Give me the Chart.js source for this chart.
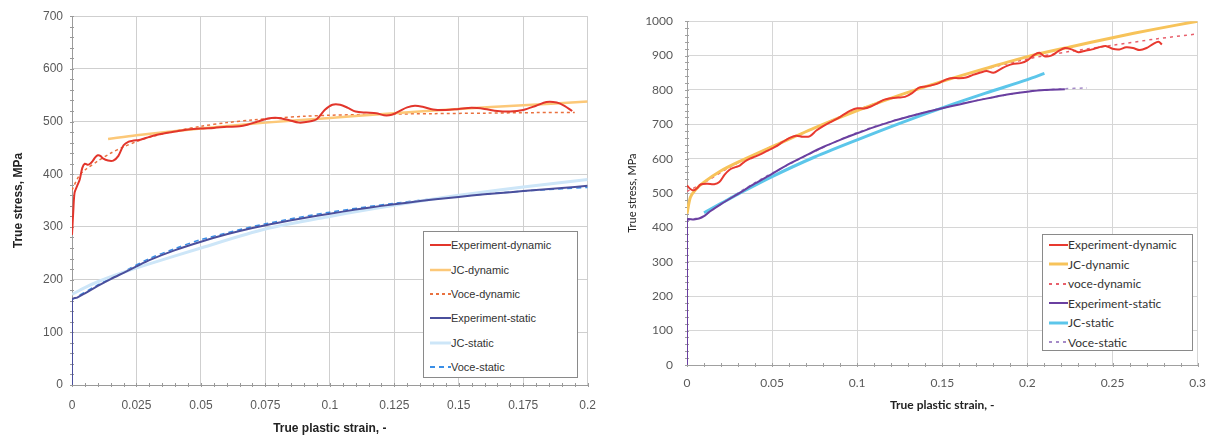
<!DOCTYPE html>
<html>
<head>
<meta charset="utf-8">
<script src="https://cdn.jsdelivr.net/npm/chart.js@4.4.1/dist/chart.umd.min.js"></script>
<style>
  body { margin: 0; background: #fff; }
  .box { position: absolute; top: 0; height: 440px; }
  .legend { position: absolute; background: #fff; border: 1px solid #8a8a8a; box-sizing: border-box; color: #333; }
  .legend .row { display: flex; align-items: center; white-space: nowrap; }
  .legend svg { flex: none; }
</style>
</head>
<body>
<div class="box" style="left:0;width:609px"><canvas id="leftChart"></canvas></div>
<div class="box" style="left:609px;width:608px"><canvas id="rightChart"></canvas></div>
<div id="leftLegend" class="legend" style="left:423px;top:231px;width:155px;height:147px;font:11px 'Liberation Sans',Arial,sans-serif;padding-top:1px"></div>
<div id="rightLegend" class="legend" style="left:1042px;top:234px;width:151px;height:117px;font:12px Lato,'Open Sans',sans-serif;padding-top:0px"></div>
<script>
// Courbes contrainte vraie / déformation plastique vraie.

// --- graphique de gauche ---
const leftLabels = ['Experiment-dynamic', 'JC-dynamic', 'Voce-dynamic', 'Experiment-static', 'JC-static', 'Voce-static'];
const leftXTicks = [0, 0.025, 0.05, 0.075, 0.1, 0.125, 0.15, 0.175, 0.2];
const leftYTicks = [0, 100, 200, 300, 400, 500, 600, 700];

const leftExpDynamic = [[0,285],[0.0005,330],[0.001,365],[0.002,378],[0.003,390],[0.004,412],[0.005,420],[0.006,418],
  [0.007,420],[0.008,425],[0.009,432],[0.010,436],[0.011,435],[0.012,430],[0.014,426],[0.016,426],[0.018,435],
  [0.020,455],[0.022,462],[0.024,464],[0.026,465],[0.028,468],[0.030,471],[0.033,475],[0.036,478],[0.040,481],
  [0.045,485],[0.050,487],[0.055,488],[0.060,490],[0.065,491],[0.068,494],[0.072,500],[0.076,506],[0.080,507],
  [0.084,503],[0.088,498],[0.092,500],[0.095,505],[0.098,522],[0.101,532],[0.104,532],[0.107,526],[0.110,519],
  [0.114,517],[0.118,516],[0.121,512],[0.124,513],[0.127,520],[0.130,527],[0.133,530],[0.136,528],[0.140,523],
  [0.145,522],[0.150,524],[0.155,526],[0.160,524],[0.165,520],[0.170,519],[0.175,522],[0.180,530],[0.184,537],
  [0.188,536],[0.191,530],[0.194,520]];
const leftJcDynamic = [[0.014,467],[0.025,474],[0.05,487],[0.075,498],[0.1,507],[0.125,516],[0.15,524],[0.175,531],[0.2,538]];
const leftVoceDynamic = [[0,370],[0.0025,395],[0.005,408],[0.01,425],[0.015,440],[0.02,452],[0.025,462],[0.03,470],
  [0.04,482],[0.05,491],[0.06,498],[0.07,503],[0.08,507],[0.09,510],[0.1,512],[0.12,514],[0.14,515],[0.16,516],
  [0.18,517],[0.195,517]];
const leftExpStatic = [[0,0],[0,162],[0.002,166],[0.005,174],[0.01,188],[0.015,201],[0.02,213],[0.025,225],[0.03,237],
  [0.04,256],[0.05,272],[0.06,286],[0.07,298],[0.08,308],[0.09,317],[0.1,325],[0.11,333],[0.12,340],[0.13,346],
  [0.14,352],[0.15,357],[0.16,362],[0.17,366],[0.18,370],[0.19,374],[0.2,378]];
const leftJcStatic = [[0,172],[0.005,185],[0.01,196],[0.02,214],[0.03,230],[0.05,260],[0.075,296],[0.1,320],
  [0.125,341],[0.15,360],[0.175,376],[0.2,390]];
const leftVoceStatic = [[0,162],[0.01,190],[0.02,215],[0.03,240],[0.04,259],[0.05,276],[0.075,306],[0.1,328],
  [0.125,345],[0.15,358],[0.175,368],[0.2,375]];

// --- graphique de droite ---
const rightLabels = ['Experiment-dynamic', 'JC-dynamic', 'voce-dynamic', 'Experiment-static', 'JC-static', 'Voce-static'];
const rightXTicks = [0, 0.05, 0.1, 0.15, 0.2, 0.25, 0.3];
const rightYTicks = [0, 100, 200, 300, 400, 500, 600, 700, 800, 900, 1000];

const rightExpDynamic = [[0,522],[0.002,512],[0.004,508],[0.006,515],[0.008,525],[0.012,527],[0.016,526],[0.019,532],
  [0.022,553],[0.025,568],[0.028,575],[0.031,580],[0.034,592],[0.037,600],[0.04,606],[0.044,615],[0.048,625],
  [0.052,635],[0.056,648],[0.06,660],[0.064,667],[0.068,664],[0.072,665],[0.076,682],[0.08,695],[0.084,706],
  [0.088,716],[0.092,728],[0.096,740],[0.1,747],[0.104,746],[0.108,752],[0.112,762],[0.116,772],[0.12,776],
  [0.124,778],[0.128,780],[0.132,790],[0.136,806],[0.14,810],[0.144,814],[0.148,820],[0.152,830],[0.156,835],
  [0.16,834],[0.164,836],[0.168,844],[0.172,850],[0.176,855],[0.18,850],[0.184,860],[0.188,870],[0.192,876],
  [0.196,878],[0.2,886],[0.204,902],[0.207,908],[0.21,898],[0.214,900],[0.218,912],[0.222,922],[0.226,918],
  [0.23,910],[0.234,914],[0.238,918],[0.242,924],[0.246,928],[0.25,920],[0.254,918],[0.258,924],[0.262,922],
  [0.266,916],[0.27,922],[0.274,934],[0.277,940],[0.279,932]];
const rightJcDynamic = [[0,440],[0.002,488],[0.005,510],[0.01,532],[0.02,565],[0.03,590],[0.05,635],[0.075,690],
  [0.1,740],[0.125,785],[0.15,825],[0.175,862],[0.2,897],[0.225,925],[0.25,952],[0.275,977],[0.3,1000]];
const rightVoceDynamic = [[0,505],[0.01,530],[0.025,575],[0.05,636],[0.075,690],[0.1,742],[0.125,785],[0.15,825],
  [0.175,860],[0.2,890],[0.225,912],[0.25,930],[0.275,948],[0.3,963]];
const rightExpStatic = [[0,0],[0,422],[0.004,423],[0.007,426],[0.01,433],[0.013,445],[0.02,468],[0.03,498],[0.04,528],
  [0.05,556],[0.06,585],[0.07,610],[0.08,634],[0.09,655],[0.1,674],[0.11,692],[0.12,708],[0.13,722],[0.14,735],
  [0.15,747],[0.16,758],[0.17,769],[0.18,779],[0.19,788],[0.2,795],[0.21,800],[0.222,802]];
const rightJcStatic = [[0.01,443],[0.02,470],[0.03,497],[0.05,548],[0.075,605],[0.1,655],[0.125,703],[0.15,748],
  [0.175,790],[0.2,830],[0.21,848]];
const rightVoceStatic = [[0,420],[0.01,434],[0.02,470],[0.05,558],[0.1,676],[0.15,748],[0.2,796],[0.22,803],[0.235,806]];

// styles des séries : [couleur, épaisseur, tirets]
const leftStyles = [['#e2352b', 2, []], ['#fcc878', 2.5, []], ['#e9713f', 1.5, [3, 3]],
                    ['#4a4f9c', 2, []], ['#cde6f8', 3, []], ['#3a8ee6', 1.5, [5, 4]]];
const rightStyles = [['#e8392f', 2, []], ['#f7c35a', 3, []], ['#e8606c', 1.5, [3, 4]],
                     ['#6a3fa0', 2, []], ['#5cc6ea', 3, []], ['#a58bc8', 1.5, [3, 4]]];

const toXY = (pts) => pts.map(([x, y]) => ({ x, y }));

function buildDatasets(labels, series, styles) {
  return series.map((pts, i) => ({
    label: labels[i],
    data: toXY(pts),
    borderColor: styles[i][0],
    borderWidth: styles[i][1],
    borderDash: styles[i][2],
    pointRadius: 0,
    fill: false,
    tension: 0.3,
  }));
}

// petites graduations secondaires sur les axes
const minorTicks = {
  id: 'minorTicks',
  beforeDatasetsDraw(chart, args, opts) {
    const { ctx, scales: { x, y } } = chart;
    ctx.save();
    ctx.strokeStyle = opts.color;
    ctx.lineWidth = 1;
    ctx.beginPath();
    const nx = Math.round((x.max - x.min) / opts.xStep);
    for (let i = 0; i <= nx; i++) {
      const px = Math.round(x.getPixelForValue(x.min + i * opts.xStep)) + 0.5;
      ctx.moveTo(px, y.bottom - 2); ctx.lineTo(px, y.bottom + 2);
    }
    const ny = Math.round((y.max - y.min) / opts.yStep);
    for (let i = 0; i <= ny; i++) {
      const py = Math.round(y.getPixelForValue(y.min + i * opts.yStep)) + 0.5;
      ctx.moveTo(x.left - 2, py); ctx.lineTo(x.left + 2, py);
    }
    ctx.stroke();
    ctx.restore();
  },
};

function makeChart(canvasId, cfg) {
  const tickFont = { family: cfg.font, size: 12 };
  return new Chart(document.getElementById(canvasId), {
    type: 'line',
    data: { datasets: cfg.datasets },
    plugins: [minorTicks],
    options: {
      responsive: true,
      maintainAspectRatio: false,
      animation: false,
      layout: { padding: { top: cfg.top, right: cfg.right, left: 0, bottom: 0 } },
      plugins: {
        legend: { display: false },
        tooltip: { enabled: false },
        minorTicks: { color: cfg.axisColor, xStep: cfg.xMinor, yStep: cfg.yMinor },
      },
      scales: {
        x: {
          type: 'linear',
          min: cfg.xTicks[0],
          max: cfg.xTicks[cfg.xTicks.length - 1],
          afterBuildTicks: (s) => { s.ticks = cfg.xTicks.map((v) => ({ value: v })); },
          afterFit: (s) => { s.height = cfg.xHeight; },
          grid: { color: cfg.gridColor, drawTicks: false },
          border: { color: cfg.axisColor },
          ticks: { color: '#595959', font: tickFont, padding: cfg.xPad, maxRotation: 0,
                   callback: (v) => String(+v.toFixed(3)) },
          title: { display: true, text: 'True plastic strain, -', color: '#222',
                   font: { family: cfg.font, size: 12, weight: 'bold' }, padding: { top: 0, bottom: cfg.xTitlePad } },
        },
        y: {
          min: cfg.yTicks[0],
          max: cfg.yTicks[cfg.yTicks.length - 1],
          afterBuildTicks: (s) => { s.ticks = cfg.yTicks.map((v) => ({ value: v })); },
          afterFit: (s) => { s.width = cfg.yWidth; },
          grid: { color: cfg.gridColor, drawTicks: false },
          border: { color: cfg.axisColor },
          ticks: { color: '#595959', font: tickFont, padding: cfg.yPad, callback: (v) => String(v) },
          title: { display: true, text: 'True stress, MPa', color: '#222',
                   font: { family: cfg.font, size: cfg.yTitleSize, weight: cfg.yTitleWeight },
                   padding: { top: cfg.yTitlePad, bottom: 0 } },
        },
      },
    },
  });
}

const leftDatasets = buildDatasets(leftLabels,
  [leftExpDynamic, leftJcDynamic, leftVoceDynamic, leftExpStatic, leftJcStatic, leftVoceStatic], leftStyles);
const rightDatasets = buildDatasets(rightLabels,
  [rightExpDynamic, rightJcDynamic, rightVoceDynamic, rightExpStatic, rightJcStatic, rightVoceStatic], rightStyles);

makeChart('leftChart', {
  datasets: leftDatasets, xTicks: leftXTicks, yTicks: leftYTicks,
  font: "'Liberation Sans', Arial, sans-serif", top: 16, right: 21, xHeight: 55, yWidth: 72,
  xPad: 13, xTitlePad: 4, yPad: 9, yTitlePad: 11, yTitleSize: 12, yTitleWeight: 'bold',
  gridColor: '#cfcfcf', axisColor: '#9a9a9a', xMinor: 0.005, yMinor: 20,
});

makeChart('rightChart', {
  datasets: rightDatasets, xTicks: rightXTicks, yTicks: rightYTicks,
  font: "Lato, 'Open Sans', sans-serif", top: 14, right: 15, xHeight: 75, yWidth: 78,
  xPad: 11, xTitlePad: 28, yPad: 14, yTitlePad: 17, yTitleSize: 11, yTitleWeight: 'normal',
  gridColor: '#d6d6d6', axisColor: '#a0a0a0', xMinor: 0.01, yMinor: 20,
});

// légendes HTML encadrées, posées dans la zone de tracé
function buildLegend(id, datasets, rowHeight, swatchWidth) {
  const el = document.getElementById(id);
  datasets.forEach((ds) => {
    const row = document.createElement('div');
    row.className = 'row';
    row.style.height = rowHeight + 'px';
    row.innerHTML =
      `<svg width="${swatchWidth + 6}" height="8"><line x1="6" y1="4" x2="${swatchWidth + 6}" y2="4" stroke="${ds.borderColor}"` +
      ` stroke-width="${Math.max(ds.borderWidth, 2)}" stroke-dasharray="${ds.borderDash.join(' ')}"/></svg>` +
      `<span>${ds.label}</span>`;
    el.appendChild(row);
  });
}
buildLegend('leftLegend', leftDatasets, 24.4, 21);
buildLegend('rightLegend', rightDatasets, 19.5, 19);
</script>
</body>
</html>
